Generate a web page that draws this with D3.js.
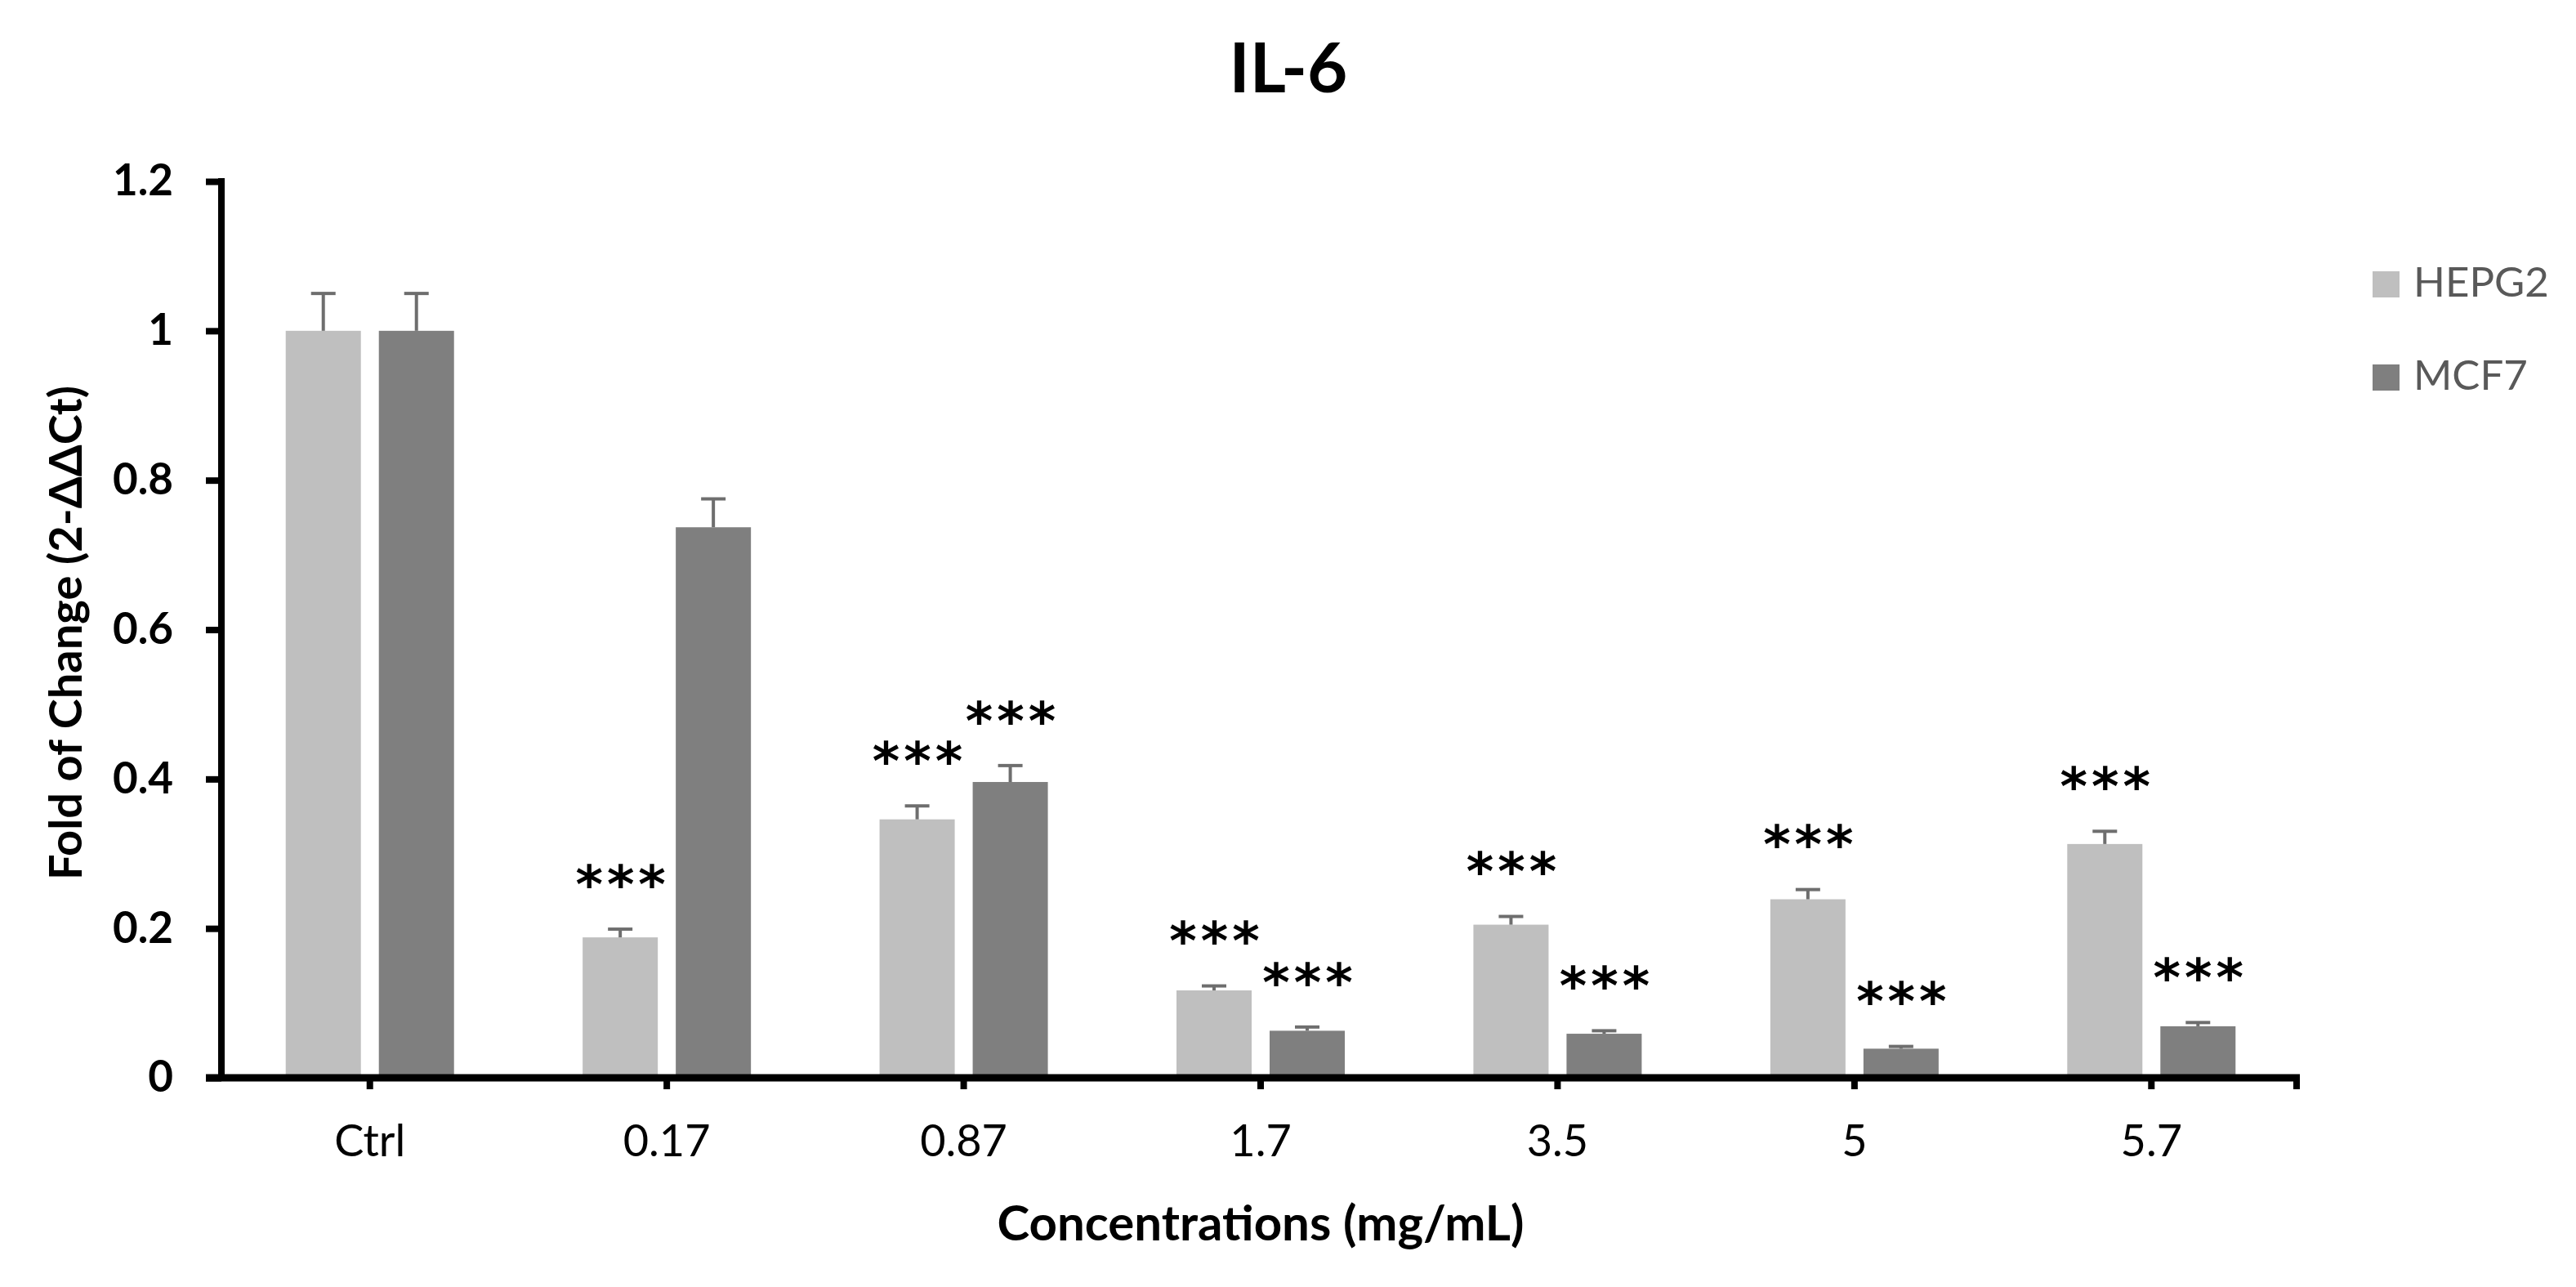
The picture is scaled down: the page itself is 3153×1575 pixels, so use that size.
<!DOCTYPE html>
<html>
<head>
<meta charset="utf-8">
<script src="https://cdn.jsdelivr.net/npm/d3@7"></script>
<style>
  html, body { margin: 0; padding: 0; background: #ffffff; }
  svg { display: block; }
</style>
</head>
<body>
<svg id="chart" width="3153" height="1575"></svg>
<script>
// ---------------- data ----------------
const categories = ["Ctrl", "0.17", "0.87", "1.7", "3.5", "5", "5.7"];
const seriesNames = ["HEPG2", "MCF7"];
const hepg2Values = [1.0, 0.188, 0.346, 0.117, 0.205, 0.239, 0.313];
const hepg2Errors = [0.05, 0.011, 0.018, 0.006, 0.011, 0.013, 0.017];
const mcf7Values  = [1.0, 0.737, 0.396, 0.063, 0.059, 0.039, 0.069];
const mcf7Errors  = [0.05, 0.038, 0.022, 0.005, 0.004, 0.003, 0.005];
const hepg2Sig = ["", "***", "***", "***", "***", "***", "***"];
const mcf7Sig  = ["", "", "***", "***", "***", "***", "***"];
const yTicks = [0, 0.2, 0.4, 0.6, 0.8, 1.0, 1.2];
const titleText = "IL-6";
const xAxisTitle = "Concentrations (mg/mL)";
const yAxisTitle = "Fold of Change (2-ΔΔCt)";

// ---------------- layout ----------------
const W = 3153, H = 1575;
const plot = { left: 271, right: 2815, top: 222, bottom: 1319 };
const colors = { HEPG2: "#bfbfbf", MCF7: "#7f7f7f" };
const font = "Lato, 'Open Sans', sans-serif";

const rows = categories.map((c, i) => ({
  cat: c,
  vals: [
    { s: "HEPG2", v: hepg2Values[i], e: hepg2Errors[i], sig: hepg2Sig[i] },
    { s: "MCF7",  v: mcf7Values[i],  e: mcf7Errors[i],  sig: mcf7Sig[i] }
  ]
}));

const svg = d3.select("#chart");

const x = d3.scaleBand().domain(categories).range([plot.left, plot.right]).padding(0);
const bw = x.bandwidth();
const groupW = 206;
const xs = d3.scaleBand().domain(seriesNames)
  .range([bw / 2 - groupW / 2, bw / 2 + groupW / 2])
  .paddingInner(22 / 114).paddingOuter(0);
const y = d3.scaleLinear().domain([0, 1.2]).range([plot.bottom, plot.top]);

// bars
const g = svg.append("g");
const groups = g.selectAll("g.cat").data(rows).join("g")
  .attr("class", "cat")
  .attr("transform", d => `translate(${x(d.cat)},0)`);

groups.selectAll("rect").data(d => d.vals).join("rect")
  .attr("x", d => xs(d.s))
  .attr("width", xs.bandwidth())
  .attr("y", d => y(d.v))
  .attr("height", d => y(0) - y(d.v))
  .attr("fill", d => colors[d.s]);

// error bars
const eb = groups.selectAll("g.err").data(d => d.vals).join("g").attr("class", "err");
eb.append("line")
  .attr("x1", d => xs(d.s) + xs.bandwidth() / 2)
  .attr("x2", d => xs(d.s) + xs.bandwidth() / 2)
  .attr("y1", d => y(d.v))
  .attr("y2", d => y(d.v + d.e))
  .attr("stroke", "#6e6e6e").attr("stroke-width", 4);
eb.append("line")
  .attr("x1", d => xs(d.s) + xs.bandwidth() / 2 - 15)
  .attr("x2", d => xs(d.s) + xs.bandwidth() / 2 + 15)
  .attr("y1", d => y(d.v + d.e))
  .attr("y2", d => y(d.v + d.e))
  .attr("stroke", "#6e6e6e").attr("stroke-width", 4);

// significance stars
groups.selectAll("text.sig").data(d => d.vals.filter(v => v.sig)).join("text")
  .attr("class", "sig")
  .attr("x", d => xs(d.s) + xs.bandwidth() / 2 + 3)
  .attr("y", d => y(d.v + d.e) - 72)
  .attr("dy", "0.62em")
  .attr("text-anchor", "middle")
  .attr("font-family", "'DejaVu Sans', sans-serif")
  .attr("font-weight", "bold")
  .attr("font-size", 64)
  .attr("letter-spacing", 5)
  .attr("fill", "#000")
  .text(d => d.sig);

// y axis
const yAxis = d3.axisLeft(y).tickValues(yTicks).tickSize(19).tickPadding(40)
  .tickFormat(d => d3.format("~g")(d));
const yg = svg.append("g").attr("transform", `translate(${plot.left},0)`).call(yAxis);
yg.select(".domain").attr("d", `M0,${plot.top - 4}V${plot.bottom}`).attr("stroke", "#000").attr("stroke-width", 8);
yg.selectAll(".tick line").attr("stroke", "#000").attr("stroke-width", 8);
yg.selectAll(".tick text")
  .attr("font-family", font).attr("font-weight", "bold").attr("font-size", 53).attr("fill", "#000");

// x axis
const xAxis = d3.axisBottom(x).tickSize(14).tickPadding(44);
const xg = svg.append("g").attr("transform", `translate(0,${plot.bottom})`).call(xAxis);
xg.select(".domain").attr("d", `M${plot.left - 19},0H${plot.right}`).attr("stroke", "#000").attr("stroke-width", 9);
xg.selectAll(".tick line").attr("stroke", "#000").attr("stroke-width", 8);
xg.selectAll(".tick text")
  .attr("font-family", font).attr("font-weight", "normal").attr("font-size", 54).attr("fill", "#000");
xg.append("line").attr("x1", plot.right - 4).attr("x2", plot.right - 4).attr("y1", 0).attr("y2", 14)
  .attr("stroke", "#000").attr("stroke-width", 8);

// title
svg.append("text")
  .attr("x", 1577).attr("y", 113)
  .attr("text-anchor", "middle")
  .attr("font-family", font).attr("font-weight", "bold").attr("font-size", 85)
  .attr("fill", "#000").text(titleText);

// axis titles
svg.append("text")
  .attr("x", (plot.left + plot.right) / 2).attr("y", 1518)
  .attr("text-anchor", "middle")
  .attr("font-family", font).attr("font-weight", "bold").attr("font-size", 60)
  .attr("fill", "#000").text(xAxisTitle);

svg.append("text")
  .attr("transform", `translate(100,${(plot.top + plot.bottom) / 2 + 4}) rotate(-90)`)
  .attr("text-anchor", "middle")
  .attr("font-family", font).attr("font-weight", "bold").attr("font-size", 56)
  .attr("fill", "#000").text(yAxisTitle);

// legend
const lg = svg.append("g").selectAll("g").data(seriesNames).join("g")
  .attr("transform", (d, i) => `translate(2904,${332 + i * 114})`);
lg.append("rect").attr("width", 33).attr("height", 32).attr("fill", d => colors[d]);
lg.append("text").attr("x", 50).attr("y", 31)
  .attr("font-family", font).attr("font-size", 51).attr("fill", "#595959")
  .text(d => d);
</script>
</body>
</html>
